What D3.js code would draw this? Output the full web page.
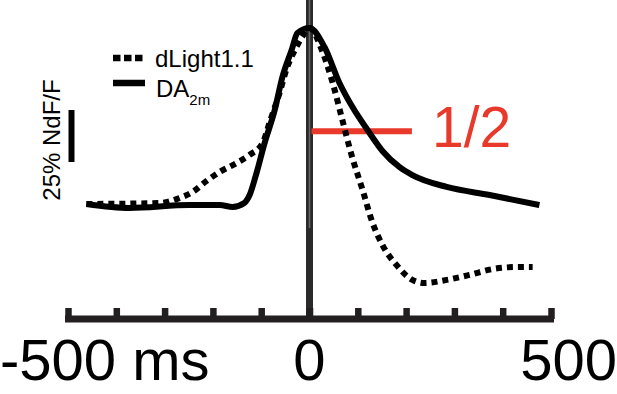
<!DOCTYPE html>
<html>
<head>
<meta charset="utf-8">
<script src="https://cdn.jsdelivr.net/npm/d3@7"></script>
<style>
  html, body { margin: 0; padding: 0; background: #fff; }
  svg { display: block; font-family: "Liberation Sans", Arial, Helvetica, sans-serif; }
</style>
</head>
<body>
<svg id="chart" width="617" height="394"></svg>
<script>
// ---- data (time in ms, signal in % NdF/F) ----
const dLightTime = [-462, -311, -269, -242, -213, -186, -151, -124, -97, -83, -62, -46, -27, -14, 0, 27, 48, 68, 87, 110, 130, 151, 180, 213, 238, 284, 331, 379, 429, 462];
const dLightValue = [0, 0.5, 2.9, 5.8, 11.1, 15.4, 19.7, 23.6, 29.3, 38.9, 53.4, 65.9, 75.5, 80.8, 84.6, 73.1, 58.2, 40.4, 23.6, 6.7, -8.7, -19.7, -29.3, -36.5, -38.0, -36.5, -34.1, -31.3, -30.3, -30.3];

const da2mTime = [-462, -373, -248, -186, -159, -135, -124, -112, -93, -72, -56, -37, -25, 0, 31, 62, 89, 120, 151, 186, 213, 284, 373, 476];
const da2mValue = [0, -1.9, -0.5, -0.5, -1.4, 0.5, 4.3, 13.0, 29.3, 45.2, 61.1, 74.0, 82.2, 84.6, 75.5, 58.2, 46.6, 35.6, 25.5, 17.8, 13.9, 8.2, 4.3, -0.5];

const tickValues = [-500, -400, -300, -200, -100, 0, 100, 200, 300, 400, 500];
const tickLabels = ["-500 ms", "0", "500"];

const seriesNames = ["dLight1.1", "DA"];
const seriesSub = ["", "2m"];
const scaleBarValue = 25;
const scaleBarLabel = "25% NdF/F";
const halfLevel = 35;
const halfSpan = [0, 212];
const halfLabel = "1/2";

// ---- scales ----
const svg = d3.select("#chart");
const x = d3.scaleLinear().domain([-500, 500]).range([68, 551]);
const y = d3.scaleLinear().domain([-50, 100]).range([308, -4]);
const axisY = 319;

const line = d3.line().x(d => x(d[0])).y(d => y(d[1])).curve(d3.curveMonotoneX);

// vertical zero line
svg.append("line")
  .attr("x1", x(0)).attr("x2", x(0)).attr("y1", 0).attr("y2", axisY)
  .attr("stroke", "#2a2a2a").attr("stroke-width", 7);
svg.append("line")
  .attr("x1", x(0)).attr("x2", x(0)).attr("y1", 0).attr("y2", 228)
  .attr("stroke", "#6a6a6a").attr("stroke-width", 1.5);

// x axis
const axis = d3.axisBottom(x).tickValues(tickValues).tickSize(0).tickFormat("");
const gAxis = svg.append("g").attr("transform", `translate(0,${axisY})`).call(axis);
gAxis.select(".domain").remove();
gAxis.append("line")
  .attr("x1", x(-500) - 3).attr("x2", x(500) + 3).attr("y1", 0).attr("y2", 0)
  .attr("stroke", "#231f20").attr("stroke-width", 7);
gAxis.selectAll(".tick").append("line")
  .attr("x1", 0).attr("x2", 0).attr("y1", 0).attr("y2", -11)
  .attr("stroke", "#231f20").attr("stroke-width", 6.5);

// tick labels
const labelAnchors = ["start", "middle", "end"];
const labelX = [x(-500) - 68, x(0), 617];
svg.selectAll("text.tl").data(tickLabels).enter().append("text")
  .attr("class", "tl")
  .attr("x", (d, i) => labelX[i])
  .attr("y", 380)
  .attr("text-anchor", (d, i) => labelAnchors[i])
  .attr("font-size", 58)
  .attr("fill", "#000")
  .text(d => d);

// half line
svg.append("line")
  .attr("x1", x(halfSpan[0]) + 2).attr("x2", x(halfSpan[1]))
  .attr("y1", y(halfLevel)).attr("y2", y(halfLevel))
  .attr("stroke", "#e8392b").attr("stroke-width", 6);
svg.append("text")
  .attr("x", 432).attr("y", 147)
  .attr("font-size", 57).attr("fill", "#e8392b")
  .text(halfLabel);

// curves
const dData = dLightTime.map((t, i) => [t, dLightValue[i]]);
const sData = da2mTime.map((t, i) => [t, da2mValue[i]]);
svg.append("path").attr("d", line(dData))
  .attr("fill", "none").attr("stroke", "#000").attr("stroke-width", 6)
  .attr("stroke-dasharray", "6,5");
svg.append("path").attr("d", line(sData))
  .attr("fill", "none").attr("stroke", "#000").attr("stroke-width", 6)
  .attr("stroke-linejoin", "round");

// legend
svg.append("line").attr("x1", 113).attr("x2", 143).attr("y1", 58).attr("y2", 58)
  .attr("stroke", "#000").attr("stroke-width", 6.5).attr("stroke-dasharray", "7.5,3.5");
svg.append("line").attr("x1", 113).attr("x2", 145).attr("y1", 83).attr("y2", 83)
  .attr("stroke", "#000").attr("stroke-width", 6.5);
svg.append("text").attr("x", 155).attr("y", 67).attr("font-size", 24).attr("fill", "#000")
  .text(seriesNames[0]);
const t2 = svg.append("text").attr("x", 156).attr("y", 97).attr("font-size", 24).attr("fill", "#000");
t2.append("tspan").text(seriesNames[1]);
t2.append("tspan").attr("font-size", 15).attr("dy", 8).text(seriesSub[1]);

// scale bar
const barLen = y(0) - y(scaleBarValue);
svg.append("line").attr("x1", 71.5).attr("x2", 71.5).attr("y1", 110).attr("y2", 110 + barLen)
  .attr("stroke", "#000").attr("stroke-width", 6);
svg.append("text")
  .attr("transform", "translate(60,140) rotate(-90)")
  .attr("text-anchor", "middle")
  .attr("font-size", 24).attr("fill", "#000")
  .text(scaleBarLabel);
</script>
</body>
</html>
